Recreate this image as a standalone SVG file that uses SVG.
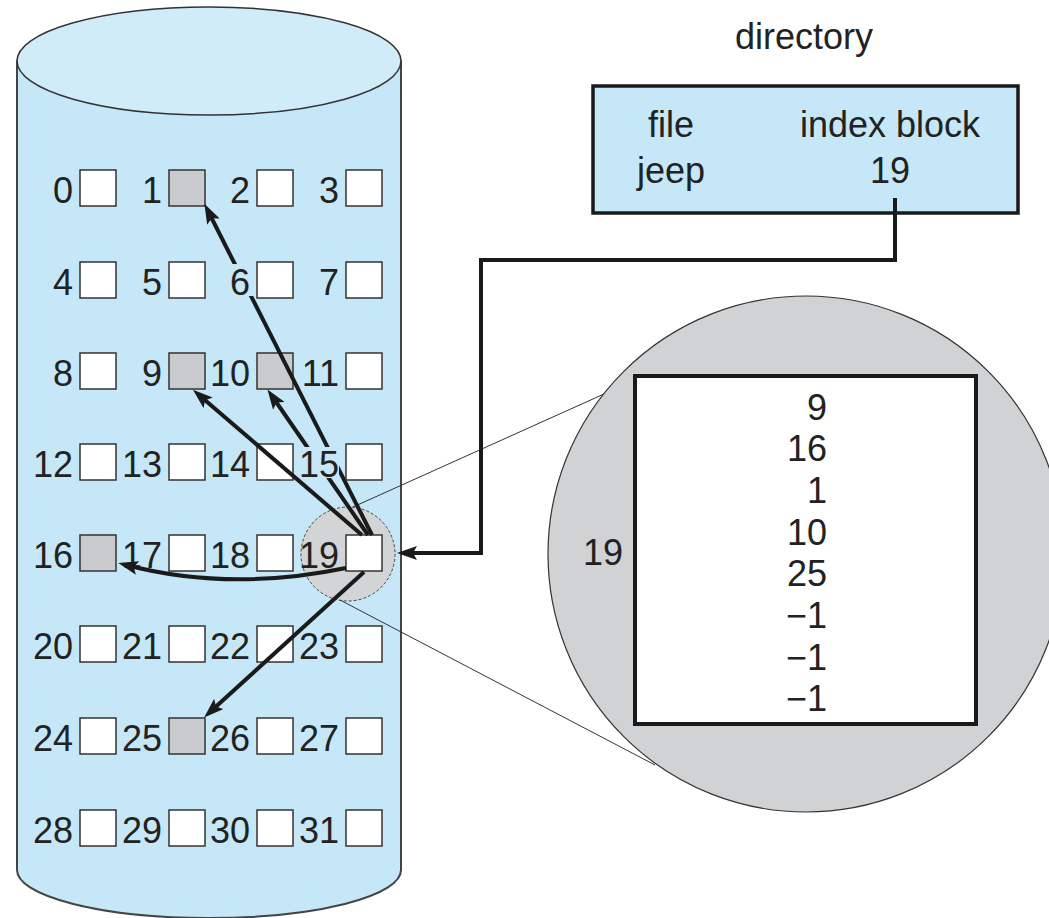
<svg xmlns="http://www.w3.org/2000/svg" width="1049" height="918" viewBox="0 0 1049 918">
<style>
  text { font-family: "Liberation Sans", Arial, sans-serif; font-size: 36px; fill: #222; }
  .lbl { text-anchor: end; }
  .mid { text-anchor: middle; }
  .sq { fill: #ffffff; stroke: #333; stroke-width: 1.5; }
  .sh { fill: #c9cbcd; stroke: #333; stroke-width: 1.5; }
  .arr { fill: none; stroke: #1a1a1a; stroke-width: 4; marker-end: url(#ah); }
  .thin { fill: none; stroke: #333; stroke-width: 1; }
  .ko { fill: #c6e7f7; }
</style>
<defs>
  <marker id="ah" viewBox="0 0 20 14" refX="12" refY="7" markerWidth="20" markerHeight="14" markerUnits="userSpaceOnUse" orient="auto">
    <path d="M0,0 L20,7 L0,14 L4,7 z" fill="#1a1a1a"/>
  </marker>
</defs>
<rect x="0" y="0" width="1049" height="918" fill="#ffffff"/>

<g id="disk">
  <path d="M17,61 L17,870 A192,48 0 0 0 401,870 L401,61 Z" fill="#c6e7f7" stroke="#444" stroke-width="2"/>
  <ellipse cx="209" cy="61" rx="192" ry="54" fill="#d0ecf9" stroke="#333" stroke-width="1.5"/>
  <circle cx="348" cy="554" r="47" fill="#d3d4d6" stroke="#444" stroke-width="1" stroke-dasharray="3,2"/>
</g>

<g id="blocks">
  <g id="block-0"><rect class="sq" x="80" y="170" width="36" height="36"/><text class="lbl" x="73" y="203">0</text></g>
  <g id="block-1"><rect class="sh" x="169" y="170" width="36" height="36"/><text class="lbl" x="162" y="203">1</text></g>
  <g id="block-2"><rect class="sq" x="257" y="170" width="36" height="36"/><text class="lbl" x="250" y="203">2</text></g>
  <g id="block-3"><rect class="sq" x="346" y="170" width="36" height="36"/><text class="lbl" x="339" y="203">3</text></g>
  <g id="block-4"><rect class="sq" x="80" y="262" width="36" height="36"/><text class="lbl" x="73" y="295">4</text></g>
  <g id="block-5"><rect class="sq" x="169" y="262" width="36" height="36"/><text class="lbl" x="162" y="295">5</text></g>
  <g id="block-7"><rect class="sq" x="346" y="262" width="36" height="36"/><text class="lbl" x="339" y="295">7</text></g>
  <g id="block-8"><rect class="sq" x="80" y="353" width="36" height="36"/><text class="lbl" x="73" y="386">8</text></g>
  <g id="block-9"><rect class="sh" x="169" y="353" width="36" height="36"/><text class="lbl" x="162" y="386">9</text></g>
  <g id="block-10"><rect class="sh" x="257" y="353" width="36" height="36"/><text class="lbl" x="250" y="386">10</text></g>
  <g id="block-11"><rect class="sq" x="346" y="353" width="36" height="36"/><text class="lbl" x="339" y="386">11</text></g>
  <g id="block-12"><rect class="sq" x="80" y="444" width="36" height="36"/><text class="lbl" x="73" y="477">12</text></g>
  <g id="block-13"><rect class="sq" x="169" y="444" width="36" height="36"/><text class="lbl" x="162" y="477">13</text></g>
  <g id="block-14"><rect class="sq" x="257" y="444" width="36" height="36"/><text class="lbl" x="250" y="477">14</text></g>
  <g id="block-16"><rect class="sh" x="80" y="535" width="36" height="36"/><text class="lbl" x="73" y="568">16</text></g>
  <g id="block-17"><rect class="sq" x="169" y="535" width="36" height="36"/><text class="lbl" x="162" y="568">17</text></g>
  <g id="block-18"><rect class="sq" x="257" y="535" width="36" height="36"/><text class="lbl" x="250" y="568">18</text></g>
  <g id="block-19"><rect class="sq" x="346" y="535" width="36" height="36"/><text class="lbl" x="339" y="568">19</text></g>
  <g id="block-20"><rect class="sq" x="80" y="626" width="36" height="36"/><text class="lbl" x="73" y="659">20</text></g>
  <g id="block-21"><rect class="sq" x="169" y="626" width="36" height="36"/><text class="lbl" x="162" y="659">21</text></g>
  <g id="block-22"><rect class="sq" x="257" y="626" width="36" height="36"/><text class="lbl" x="250" y="659">22</text></g>
  <g id="block-23"><rect class="sq" x="346" y="626" width="36" height="36"/><text class="lbl" x="339" y="659">23</text></g>
  <g id="block-24"><rect class="sq" x="80" y="718" width="36" height="36"/><text class="lbl" x="73" y="751">24</text></g>
  <g id="block-25"><rect class="sh" x="169" y="718" width="36" height="36"/><text class="lbl" x="162" y="751">25</text></g>
  <g id="block-26"><rect class="sq" x="257" y="718" width="36" height="36"/><text class="lbl" x="250" y="751">26</text></g>
  <g id="block-27"><rect class="sq" x="346" y="718" width="36" height="36"/><text class="lbl" x="339" y="751">27</text></g>
  <g id="block-28"><rect class="sq" x="80" y="810" width="36" height="36"/><text class="lbl" x="73" y="843">28</text></g>
  <g id="block-29"><rect class="sq" x="169" y="810" width="36" height="36"/><text class="lbl" x="162" y="843">29</text></g>
  <g id="block-30"><rect class="sq" x="257" y="810" width="36" height="36"/><text class="lbl" x="250" y="843">30</text></g>
  <g id="block-31"><rect class="sq" x="346" y="810" width="36" height="36"/><text class="lbl" x="339" y="843">31</text></g>
</g>

<g id="index-block">
  <circle cx="806" cy="554" r="258" fill="#d0d2d4" stroke="#333" stroke-width="1.2"/>
  <rect x="635" y="376" width="341" height="348" fill="#ffffff" stroke="#1a1a1a" stroke-width="4"/>
  <text class="lbl" x="623" y="565">19</text>
  <text class="lbl" x="827" y="420">9</text>
  <text class="lbl" x="827" y="461">16</text>
  <text class="lbl" x="827" y="503">1</text>
  <text class="lbl" x="827" y="545">10</text>
  <text class="lbl" x="827" y="586">25</text>
  <text class="lbl" x="827" y="628">−1</text>
  <text class="lbl" x="827" y="670">−1</text>
  <text class="lbl" x="827" y="711">−1</text>
</g>

<g id="directory">
  <text class="mid" x="804" y="49">directory</text>
  <rect x="593" y="86" width="425" height="127" fill="#c6e7f7" stroke="#1a1a1a" stroke-width="3.5"/>
  <text class="mid" x="671" y="137">file</text>
  <text class="mid" x="890" y="137">index block</text>
  <text class="mid" x="671" y="183">jeep</text>
  <text class="mid" x="890" y="183">19</text>
</g>

<g id="connectors">
  <line class="thin" x1="353" y1="507" x2="604" y2="394"/>
  <line class="thin" x1="340" y1="600" x2="655" y2="765"/>
  <path class="arr" d="M895,198 V260 H481 V553 H405" stroke-width="3.5"/>
  <path class="arr" d="M372,535 L208,211"/>
  <path class="arr" d="M362,535 L199,395"/>
  <path class="arr" d="M368,535 L272,396"/>
  <path class="arr" d="M346,568 Q230,592 126,565"/>
  <path class="arr" d="M364,572 L210,712"/>
</g>

<g id="block-6"><rect class="sq" x="257" y="262" width="36" height="36"/><rect class="ko" x="230" y="264" width="23" height="32"/><text class="lbl" x="250" y="295">6</text></g>
<g id="block-15"><rect class="sq" x="346" y="444" width="36" height="36"/><rect class="ko" x="300" y="447" width="39" height="31"/><text class="lbl" x="339" y="477">15</text></g>
</svg>
